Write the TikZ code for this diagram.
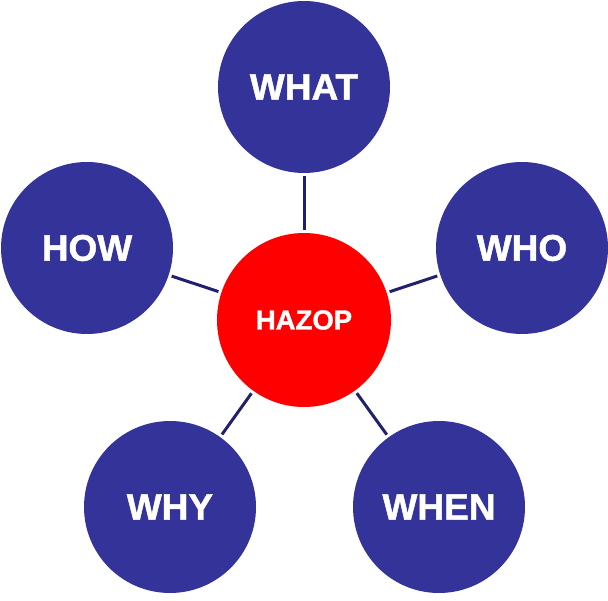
\documentclass[tikz,border=0pt]{standalone}
\usepackage{fontspec}
\setmainfont{Liberation Sans}
\newfontfamily\heavyfont[BoldFeatures={FakeBold=1.3}]{Liberation Sans}
\usetikzlibrary{positioning}
\definecolor{circblue}{RGB}{51,51,153}
\definecolor{linkblue}{RGB}{32,32,110}
\definecolor{hazred}{RGB}{255,0,0}

\begin{document}
\begin{tikzpicture}
		[x=1pt,y=-1pt,
		 topic/.style={circle,fill=circblue,minimum size=172pt,inner sep=0pt,text=white,font=\fontsize{37}{40}\heavyfont\bfseries},
		 hub/.style={circle,fill=hazred,minimum size=174pt,inner sep=0pt,text=white,font=\fontsize{27.5}{30}\heavyfont\bfseries},
		 link/.style={line width=3pt,linkblue,shorten <=3pt,shorten >=3pt}]
		\useasboundingbox (0,0) rectangle (608,601);

		% draw the red hub in the middle
		\node[hub] (hazop) at (304,320) {HAZOP};

		% draw the five blue question circles
		\node[topic] (what) at (304,87) {WHAT};
		\node[topic] (how) at (87,248) {HOW};
		\node[topic] (who) at (522,248) {WHO};
		\node[topic] (why) at (170,507) {WHY};
		\node[topic] (when) at (439,507) {WHEN};

		% draw the links to the hub
		\draw[link] (what) -- (hazop);
		\draw[link] (how) -- (hazop);
		\draw[link] (who) -- (hazop);
		\draw[link] (why) -- (hazop);
		\draw[link] (when) -- (hazop);
	\end{tikzpicture}
\end{document}
